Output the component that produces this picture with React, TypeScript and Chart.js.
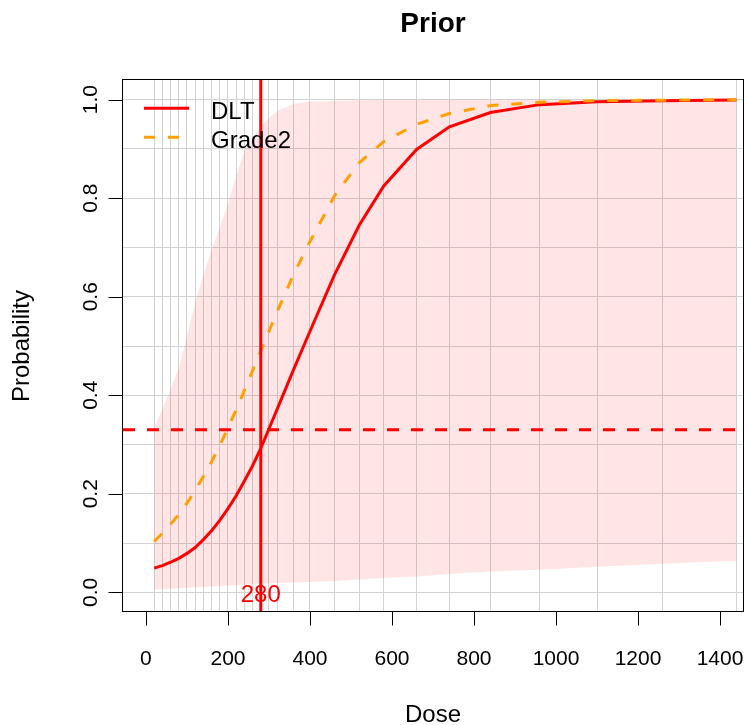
import { useEffect, useRef } from "react";
import { Chart, registerables } from "chart.js";

Chart.register(...registerables);

// ---- data ----
const DOSES = [20, 40, 60, 80, 100, 120, 140, 160, 180, 200, 220, 240, 260, 280, 300, 320, 360, 400, 460, 520, 580, 660, 740, 840, 960, 1100, 1260, 1440];
const DLT = [0.049, 0.054, 0.061, 0.069, 0.079, 0.091, 0.107, 0.125, 0.146, 0.17, 0.196, 0.226, 0.257, 0.292, 0.332, 0.372, 0.452, 0.53, 0.645, 0.745, 0.825, 0.899, 0.945, 0.974, 0.99, 0.996, 0.998, 0.9995];
const GRADE2 = [0.103, 0.12, 0.138, 0.158, 0.181, 0.207, 0.235, 0.265, 0.298, 0.334, 0.37, 0.41, 0.45, 0.49, 0.53, 0.57, 0.645, 0.712, 0.805, 0.872, 0.915, 0.95, 0.972, 0.988, 0.995, 0.998, 0.999, 1.0];
const BAND_UPPER = [0.333, 0.372, 0.412, 0.455, 0.52, 0.588, 0.644, 0.695, 0.74, 0.79, 0.845, 0.895, 0.925, 0.945, 0.963, 0.977, 0.992, 0.996, 0.998, 0.999, 1.0, 1.0, 1.0, 1.0, 1.0, 1.0, 1.0, 1.0];
const BAND_LOWER = [0.005, 0.006, 0.007, 0.008, 0.009, 0.01, 0.011, 0.012, 0.013, 0.014, 0.015, 0.016, 0.017, 0.018, 0.018, 0.019, 0.02, 0.021, 0.023, 0.026, 0.029, 0.032, 0.037, 0.042, 0.046, 0.052, 0.058, 0.064];
const X_TICKS = [0, 200, 400, 600, 800, 1000, 1200, 1400];
const Y_TICKS = [0, 0.2, 0.4, 0.6, 0.8, 1.0];
const Y_TICK_LABELS = ["0.0", "0.2", "0.4", "0.6", "0.8", "1.0"];
const Y_GRID = [0, 0.1, 0.2, 0.3, 0.4, 0.5, 0.6, 0.7, 0.8, 0.9, 1.0];
const TARGET = 0.33;
const MTD = 280;
const SERIES_LABELS = ["DLT", "Grade2"];
const TITLE = "Prior";
const X_TITLE = "Dose";
const Y_TITLE = "Probability";

const X_MIN = -56;
const X_MAX = 1456;
const Y_MIN = -0.04;
const Y_MAX = 1.04;

const RED = "#ff0000";
const ORANGE = "#ffa000";
const GRID = "#d3d3d3";
const BAND = "rgba(255,0,0,0.1)";
const FONT = '"Liberation Sans", Arial, Helvetica, sans-serif';

const pts = (ys: number[]) => DOSES.map((d, i) => ({ x: d, y: ys[i] }));

const decor = {
  id: "decor",
  afterDraw(chart: any) {
    const { ctx, chartArea: a, scales } = chart;
    const x = scales.x;
    const y = scales.y;
    ctx.save();
    // box
    ctx.strokeStyle = "#000";
    ctx.lineWidth = 1;
    ctx.setLineDash([]);
    const L = a.left - 0.5, R = a.right + 0.5, T = a.top - 0.5, B = a.bottom - 0.5;
    ctx.strokeRect(L, T, R - L, B - T);
    // ticks
    ctx.beginPath();
    X_TICKS.forEach((v) => {
      const px = Math.round(x.getPixelForValue(v)) + 0.5;
      ctx.moveTo(px, B);
      ctx.lineTo(px, B + 14);
    });
    Y_TICKS.forEach((v) => {
      const py = Math.round(y.getPixelForValue(v)) + 0.5;
      ctx.moveTo(L, py);
      ctx.lineTo(L - 14, py);
    });
    ctx.stroke();
    // tick labels
    ctx.fillStyle = "#000";
    ctx.font = `21px ${FONT}`;
    ctx.textAlign = "center";
    ctx.textBaseline = "alphabetic";
    X_TICKS.forEach((v) => ctx.fillText(String(v), x.getPixelForValue(v), 665));
    Y_TICKS.forEach((v, i) => {
      ctx.save();
      ctx.translate(96.5, y.getPixelForValue(v));
      ctx.rotate(-Math.PI / 2);
      ctx.fillText(Y_TICK_LABELS[i], 0, 0);
      ctx.restore();
    });
    // axis titles
    ctx.font = `24px ${FONT}`;
    ctx.fillText(X_TITLE, (a.left + a.right) / 2, 722);
    ctx.save();
    ctx.translate(29, (a.top + a.bottom) / 2);
    ctx.rotate(-Math.PI / 2);
    ctx.fillText(Y_TITLE, 0, 0);
    ctx.restore();
    // title
    ctx.font = `bold 28px ${FONT}`;
    ctx.fillText(TITLE, (a.left + a.right) / 2, 32);
    // MTD label
    ctx.fillStyle = RED;
    ctx.font = `24px ${FONT}`;
    ctx.fillText(String(MTD), x.getPixelForValue(MTD), 601.5);
    // legend
    ctx.lineWidth = 3;
    ctx.strokeStyle = RED;
    ctx.beginPath();
    ctx.moveTo(144, 108.3);
    ctx.lineTo(189, 108.3);
    ctx.stroke();
    ctx.strokeStyle = ORANGE;
    ctx.setLineDash([11, 13]);
    ctx.beginPath();
    ctx.moveTo(144, 137.3);
    ctx.lineTo(189, 137.3);
    ctx.stroke();
    ctx.setLineDash([]);
    ctx.fillStyle = "#000";
    ctx.textAlign = "left";
    ctx.font = `24px ${FONT}`;
    ctx.fillText(SERIES_LABELS[0], 211, 118.5);
    ctx.fillText(SERIES_LABELS[1], 211, 148);
    ctx.restore();
  },
};

export default function App() {
  const ref = useRef<HTMLCanvasElement | null>(null);
  useEffect(() => {
    document.body.style.margin = "0";
    const canvas = ref.current;
    if (!canvas) return;
    const chart = new Chart(canvas, {
      type: "line",
      data: {
        datasets: [
          {
            label: "upper",
            data: pts(BAND_UPPER),
            borderWidth: 0,
            borderColor: "rgba(0,0,0,0)",
            pointRadius: 0,
            fill: "+1",
            backgroundColor: BAND,
            order: 10,
          },
          {
            label: "lower",
            data: pts(BAND_LOWER),
            borderWidth: 0,
            borderColor: "rgba(0,0,0,0)",
            pointRadius: 0,
            fill: false,
            order: 11,
          },
          {
            label: SERIES_LABELS[0],
            data: pts(DLT),
            borderColor: RED,
            borderWidth: 3,
            pointRadius: 0,
            fill: false,
            order: 3,
          },
          {
            label: SERIES_LABELS[1],
            data: pts(GRADE2),
            borderColor: ORANGE,
            borderWidth: 3,
            borderDash: [11, 13],
            pointRadius: 0,
            fill: false,
            order: 2,
          },
          {
            label: "mtd",
            data: [
              { x: MTD, y: Y_MIN },
              { x: MTD, y: Y_MAX },
            ],
            borderColor: RED,
            borderWidth: 3,
            pointRadius: 0,
            fill: false,
            order: 1,
          },
          {
            label: "target",
            data: [
              { x: X_MIN, y: TARGET },
              { x: X_MAX, y: TARGET },
            ],
            borderColor: RED,
            borderWidth: 3,
            borderDash: [12, 12],
            pointRadius: 0,
            fill: false,
            order: 1,
          },
        ],
      },
      options: {
        animation: false,
        responsive: false,
        devicePixelRatio: 1,
        layout: { padding: { top: 80, right: 5, left: 0, bottom: 0 } },
        plugins: { legend: { display: false }, title: { display: false }, tooltip: { enabled: false } },
        scales: {
          x: {
            type: "linear",
            min: X_MIN,
            max: X_MAX,
            afterBuildTicks: (s: any) => {
              s.ticks = DOSES.map((v) => ({ value: v }));
            },
            afterFit: (s: any) => {
              s.height = 725 - 612;
            },
            grid: { color: GRID, lineWidth: 1, drawTicks: false },
            border: { display: false },
            ticks: { display: false },
          },
          y: {
            type: "linear",
            min: Y_MIN,
            max: Y_MAX,
            afterBuildTicks: (s: any) => {
              s.ticks = Y_GRID.map((v) => ({ value: v }));
            },
            afterFit: (s: any) => {
              s.width = 123;
            },
            grid: { color: GRID, lineWidth: 1, drawTicks: false },
            border: { display: false },
            ticks: { display: false },
          },
        },
      },
      plugins: [decor],
    } as any);
    return () => chart.destroy();
  }, []);
  return (
    <div style={{ width: 748, height: 725 }}>
      <canvas ref={ref} width={748} height={725} style={{ display: "block" }} />
    </div>
  );
}
